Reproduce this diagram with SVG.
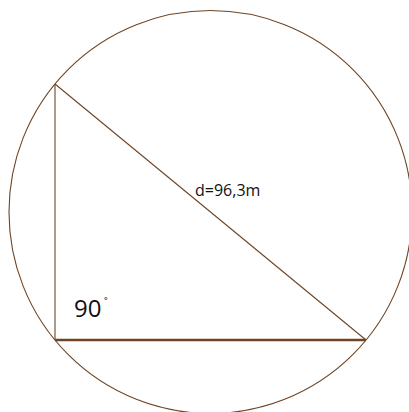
<svg xmlns="http://www.w3.org/2000/svg" width="409" height="412" viewBox="0 0 409 412">
<style>
.ln{stroke:#6e4424;fill:none;stroke-width:1.1}
.thick{stroke:#6e4424;fill:none;stroke-width:2.4}
.t{font-family:"Open Sans","Noto Sans",sans-serif;fill:#111}
</style>
<rect width="409" height="412" fill="#fff"/>
<g id="circle"><circle class="ln" cx="210.5" cy="212" r="201.5"/></g>
<g id="connectors">
<line class="ln" x1="55" y1="84" x2="55" y2="340"/>
<line class="ln" x1="55" y1="84" x2="366" y2="340"/>
<line class="thick" x1="55" y1="340" x2="366" y2="340"/>
</g>
<g id="label-d"><text class="t" x="195" y="196" font-size="16">d=96,3m</text></g>
<g id="label-angle"><text class="t" x="74" y="317" font-size="24">90</text><text class="t" x="104" y="308" font-size="12">˚</text></g>
</svg>
